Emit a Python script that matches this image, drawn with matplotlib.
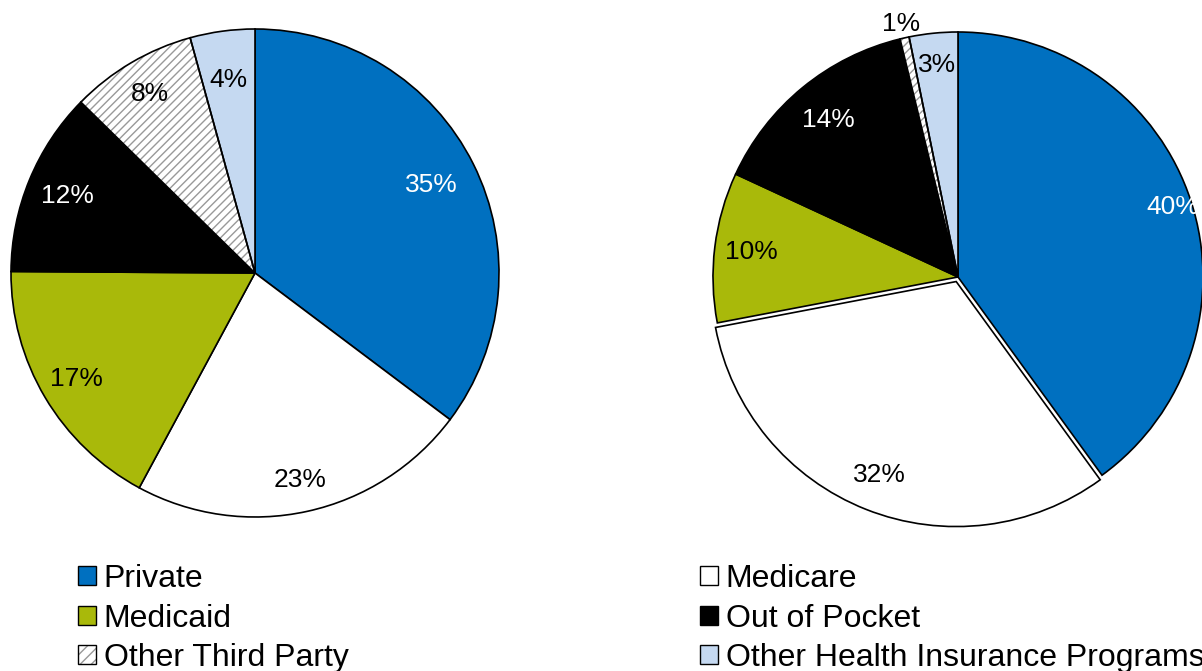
import numpy as np
import matplotlib.pyplot as plt
from matplotlib.patches import Patch, Wedge

plt.rcParams['font.family'] = ['Liberation Sans', 'DejaVu Sans']
plt.rcParams['hatch.linewidth'] = 1.0

# data
categories = ['Private', 'Medicare', 'Medicaid', 'Out of Pocket',
              'Other Third Party', 'Other Health Insurance Programs']
left_shares = [35.4, 22.7, 17.3, 12.3, 8.4, 4.3]
right_shares = [40.0, 32.0, 9.9, 14.3, 0.6, 3.2]

colors = ['#0070C0', '#FFFFFF', '#A9B90A', '#000000', '#FFFFFF', '#C5D9F1']
hatches = [None, None, None, None, '////', None]
text_colors = ['white', 'black', 'black', 'white', 'black', 'black']
HATCH_GRAY = '#999999'

W, H = 1202, 671
fig = plt.figure(figsize=(W / 100, H / 100), dpi=100)


def draw_pie(rect, shares, explode, label_dist):
    ax = fig.add_axes(rect)
    wedges, _ = ax.pie(shares, colors=colors, startangle=90, counterclock=False,
                       explode=explode,
                       wedgeprops=dict(edgecolor='black', linewidth=1.2))
    ax.set_xlim(-1, 1)
    ax.set_ylim(-1, 1)
    ax.axis('off')
    total = sum(shares)
    for i, w in enumerate(wedges):
        w.set_clip_on(False)
        if hatches[i]:
            # hatch takes the edge colour, so outline it again in black
            w.set_hatch(hatches[i])
            w.set_edgecolor(HATCH_GRAY)
            w.set_linewidth(0)
            ax.add_patch(Wedge(w.center, w.r, w.theta1, w.theta2, fill=False,
                               edgecolor='black', lw=1.2, clip_on=False))
        mid = np.deg2rad((w.theta1 + w.theta2) / 2)
        cx, cy = w.center
        d = label_dist[i]
        ax.text(cx + d * np.cos(mid), cy + d * np.sin(mid),
                '%.0f%%' % (100 * shares[i] / total),
                ha='center', va='center', fontsize=19, color=text_colors[i])
    return ax


# left pie: center (255, 273), r 244 px
draw_pie([11 / W, 1 - 517 / H, 488 / W, 488 / H], left_shares,
         [0, 0, 0, 0, 0, 0], [0.81, 0.87, 0.85, 0.83, 0.85, 0.80])
# right pie: center (958, 277), r 245 px
draw_pie([713 / W, 1 - 522 / H, 490 / W, 490 / H], right_shares,
         [0, 0.02, 0, 0, 0, 0], [0.92, 0.85, 0.85, 0.83, 1.06, 0.87])

handles = []
for i in range(6):
    if hatches[i]:
        # hatched key plus a black frame drawn on top
        handles.append((Patch(facecolor='white', edgecolor=HATCH_GRAY, hatch='///',
                              linewidth=0),
                        Patch(facecolor='none', edgecolor='black', linewidth=1.0)))
    else:
        handles.append(Patch(facecolor=colors[i], edgecolor='black', linewidth=1.0))

legend_kw = dict(frameon=False, fontsize=23, handlelength=0.55, handleheight=0.55,
                 handletextpad=0.25, labelspacing=0.3, borderpad=0, borderaxespad=0)
fig.legend([handles[0], handles[2], handles[4]],
           [categories[0], categories[2], categories[4]], loc='upper left',
           bbox_to_anchor=(78 / W, 1 - 564 / H), **legend_kw)
fig.legend([handles[1], handles[3], handles[5]],
           [categories[1], categories[3], categories[5]], loc='upper left',
           bbox_to_anchor=(700 / W, 1 - 564 / H), **legend_kw)

fig.savefig('out.png', dpi=100)
